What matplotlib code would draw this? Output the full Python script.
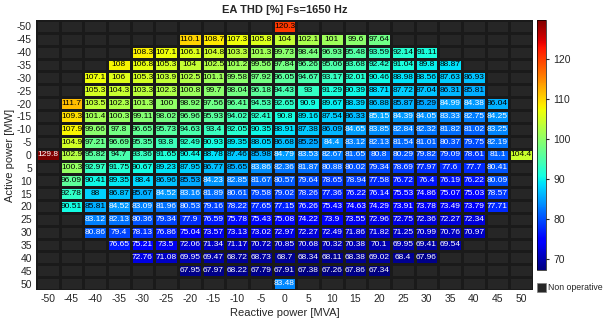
import numpy as np
import matplotlib
matplotlib.use("Agg")
import matplotlib.pyplot as plt
from matplotlib.patches import Rectangle

plt.rcParams['font.family'] = ['Liberation Sans', 'DejaVu Sans']
plt.rcParams['axes.unicode_minus'] = False

reactive_power = list(range(-50, 55, 5))   # x categories [MVA]
active_power = list(range(-50, 55, 5))     # y categories [MW]

# THD values per active-power row (each row centred on Q = 0)
thd_p_m50 = [120.3]
thd_p_m45 = [110.1, 108.7, 107.3, 105.8, 104, 102.1, 101, 99.6, 97.64]
thd_p_m40 = [108.3, 107.1, 106.1, 104.8, 103.3, 101.3, 99.73, 98.44, 96.93, 95.48, 93.59, 92.14, 91.11]
thd_p_m35 = [108, 106.8, 105.3, 104, 102.5, 101.2, 99.56, 97.84, 96.26, 95.06, 93.68, 92.42, 91.04, 89.8, 88.87]
thd_p_m30 = [107.1, 106, 105.3, 103.9, 102.5, 101.1, 99.58, 97.92, 96.05, 94.67, 93.17, 92.01, 90.46, 88.98, 88.56, 87.63, 86.93]
thd_p_m25 = [105.3, 104.3, 103.3, 102.3, 100.8, 99.7, 98.04, 96.18, 94.43, 93, 91.29, 90.39, 88.71, 87.72, 87.04, 86.31, 85.81]
thd_p_m20 = [111.7, 103.5, 102.3, 101.3, 100, 98.92, 97.56, 96.41, 94.53, 92.65, 90.9, 89.67, 88.39, 86.88, 85.87, 85.29, 84.99, 84.38, 86.04]
thd_p_m15 = [109.3, 101.4, 100.3, 99.11, 98.02, 96.96, 95.93, 94.02, 92.41, 90.8, 89.16, 87.54, 86.33, 85.15, 84.39, 84.05, 83.33, 82.75, 84.25]
thd_p_m10 = [107.9, 99.66, 97.8, 96.65, 95.73, 94.63, 93.4, 92.05, 90.35, 88.91, 87.38, 86.09, 84.65, 83.85, 82.84, 82.32, 81.82, 81.02, 83.25]
thd_p_m5 = [104.9, 97.21, 96.69, 95.35, 93.8, 92.49, 90.93, 89.35, 88.05, 86.68, 85.25, 84.4, 83.12, 82.13, 81.54, 81.01, 80.37, 79.75, 82.19]
thd_p_0 = [129.8, 102.9, 95.82, 94.7, 93.36, 91.65, 90.44, 88.78, 87.46, 85.98, 84.79, 83.53, 82.67, 81.65, 80.8, 80.29, 79.82, 79.09, 78.61, 81.1, 104.4]
thd_p_5 = [100.3, 92.97, 91.75, 90.67, 89.23, 87.95, 86.77, 85.65, 83.86, 82.36, 81.87, 80.88, 80.02, 79.34, 78.69, 77.97, 77.6, 77.7, 80.41]
thd_p_10 = [96.09, 90.41, 89.35, 88.4, 86.96, 85.53, 84.23, 82.85, 81.67, 80.57, 79.64, 78.65, 78.94, 77.58, 76.72, 76.4, 76.19, 76.22, 80.09]
thd_p_15 = [92.78, 88, 86.87, 85.67, 84.52, 83.16, 81.89, 80.61, 79.58, 79.02, 78.26, 77.36, 76.22, 76.14, 75.53, 74.86, 75.07, 75.03, 78.57]
thd_p_20 = [90.51, 85.81, 84.52, 83.09, 81.96, 80.53, 79.16, 78.22, 77.65, 77.15, 76.26, 75.43, 74.63, 74.29, 73.91, 73.78, 73.49, 73.79, 77.71]
thd_p_25 = [83.12, 82.13, 80.36, 79.34, 77.9, 76.59, 75.78, 75.43, 75.08, 74.22, 73.9, 73.55, 72.96, 72.75, 72.36, 72.27, 72.34]
thd_p_30 = [80.86, 79.4, 78.13, 76.86, 75.04, 73.57, 73.13, 73.02, 72.97, 72.27, 72.49, 71.86, 71.82, 71.25, 70.99, 70.76, 70.97]
thd_p_35 = [76.65, 75.21, 73.5, 72.06, 71.34, 71.17, 70.72, 70.85, 70.68, 70.32, 70.38, 70.1, 69.95, 69.41, 69.54]
thd_p_40 = [72.76, 71.08, 69.95, 69.47, 68.72, 68.73, 68.7, 68.34, 68.11, 68.38, 69.02, 68.4, 67.96]
thd_p_45 = [67.95, 67.97, 68.22, 67.79, 67.91, 67.38, 67.26, 67.86, 67.34]
thd_p_50 = [83.48]

rows = [thd_p_m50, thd_p_m45, thd_p_m40, thd_p_m35, thd_p_m30, thd_p_m25, thd_p_m20,
        thd_p_m15, thd_p_m10, thd_p_m5, thd_p_0, thd_p_5, thd_p_10, thd_p_15, thd_p_20,
        thd_p_25, thd_p_30, thd_p_35, thd_p_40, thd_p_45, thd_p_50]

nx, ny = len(reactive_power), len(active_power)
Z = np.full((ny, nx), np.nan)
for i, r in enumerate(rows):
    start = (nx - len(r)) // 2
    Z[i, start:start + len(r)] = r
Zm = np.ma.masked_invalid(Z)

W, H = 604, 325
fig = plt.figure(figsize=(W / 100, H / 100), dpi=100)
ax = fig.add_axes([36 / W, 1 - 290 / H, (533 - 36) / W, (290 - 20) / H])
bg = '#262626'
ax.set_facecolor(bg)

xs = np.array(reactive_power, dtype=float)
ys = np.array(active_power, dtype=float)
xe = np.concatenate([xs - 2.5, [xs[-1] + 2.5]])
ye = np.concatenate([ys - 2.5, [ys[-1] + 2.5]])
vmin, vmax = np.nanmin(Z), np.nanmax(Z)
cmap = plt.get_cmap('jet')
mesh = ax.pcolormesh(xe, ye, Zm, cmap=cmap, vmin=vmin, vmax=vmax,
                     edgecolors='#1a1a1a', linewidth=0.8)
ax.set_xlim(xe[0], xe[-1])
ax.set_ylim(ye[-1], ye[0])

for i in range(ny):
    for j in range(nx):
        v = Z[i, j]
        if np.isnan(v):
            continue
        col = 'white' if (v < 85.2 or v > 125) else 'black'
        ax.text(xs[j], ys[i], f"{v:.4g}", ha='center', va='center',
                fontsize=6, color=col)

ax.set_xticks(reactive_power)
ax.set_yticks(active_power)
ax.tick_params(axis='both', labelsize=7.5, length=0, colors='#262626', pad=3)
for s in ax.spines.values():
    s.set_visible(False)
ax.set_xlabel('Reactive power [MVA]', fontsize=8, color='#262626', labelpad=3)
ax.set_ylabel('Active power [MW]', fontsize=8, color='#262626', labelpad=1)
ax.set_title('EA THD [%] Fs=1650 Hz', fontsize=8, fontweight='bold', color='#262626', pad=5)

cax = fig.add_axes([537 / W, 1 - 270 / H, 9 / W, (270 - 20) / H])
cb = fig.colorbar(mesh, cax=cax)
cb.set_ticks([70, 80, 90, 100, 110, 120])
cb.ax.tick_params(labelsize=7.5, length=2, colors='#262626')
cb.outline.set_linewidth(0.5)

fig.patches.append(Rectangle((537 / W, 1 - 292 / H), 9 / W, 9 / H, transform=fig.transFigure,
                             facecolor=bg, edgecolor='#808080', linewidth=0.5))
fig.text(548 / W, 1 - 287.5 / H, 'Non operative', fontsize=6.3, va='center', ha='left', color='#262626')

fig.savefig('out.png', dpi=100)
